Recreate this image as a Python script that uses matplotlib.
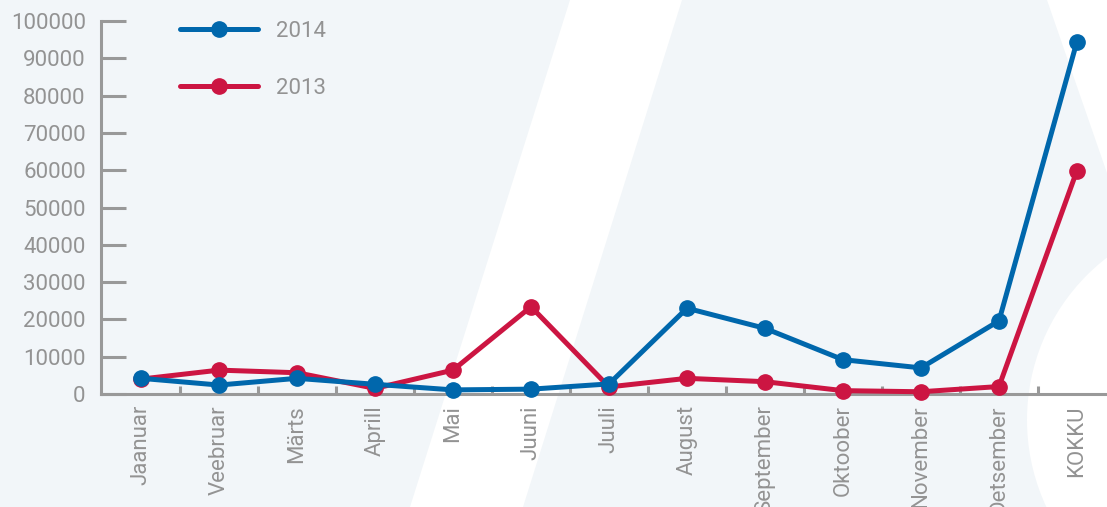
import matplotlib
matplotlib.use("Agg")
import matplotlib.pyplot as plt
from matplotlib.patches import Polygon, Circle, Rectangle

months = ["Jaanuar", "Veebruar", "Märts", "Aprill", "Mai", "Juuni", "Juuli",
          "August", "September", "Oktoober", "November", "Detsember", "KOKKU"]
y2014 = [4200, 2400, 4200, 2600, 1100, 1300, 2700, 23000, 17600, 9200, 7000, 19600, 94500]
y2013 = [4000, 6400, 5700, 1500, 6400, 23400, 1900, 4200, 3300, 900, 600, 2000, 59900]
yticks = [0, 10000, 20000, 30000, 40000, 50000, 60000, 70000, 80000, 90000, 100000]

blue = "#0067ac"
red = "#cc1542"
grey = "#999999"
txt = "#939393"
bg = "#f2f6f9"

plt.rcParams["font.family"] = ["Roboto", "DejaVu Sans"]
plt.rcParams["font.weight"] = "normal"

W, H = 1107, 507
fig = plt.figure(figsize=(W / 100, H / 100), dpi=100)
fig.patch.set_facecolor("white")

# background decoration in pixel coords
bga = fig.add_axes([0, 0, 1, 1], zorder=0)
bga.set_xlim(0, W)
bga.set_ylim(H, 0)
bga.axis("off")
bga.add_patch(Rectangle((0, 0), W, H, color=bg, lw=0))
bga.add_patch(Polygon([(570, 0), (682, 0), (523, H), (410, H)], color="white", lw=0))
bga.add_patch(Polygon([(1047, 0), (W, 0), (W, 173)], color="white", lw=0))
bga.add_patch(Circle((1232, 420), 205, color="white", lw=0))

left, right = 101 / W, 1.0
bottom, top = 1 - 394 / H, 1 - 21 / H
ax = fig.add_axes([left, bottom, right - left, top - bottom], zorder=1)
ax.patch.set_alpha(0)

x = list(range(len(months)))
l1, = ax.plot(x, y2014, color=blue, lw=3.6, marker="o", ms=11, label="2014",
              solid_capstyle="round", zorder=4, clip_on=False)
l2, = ax.plot(x, y2013, color=red, lw=3.6, marker="o", ms=11, label="2013",
              solid_capstyle="round", zorder=3, clip_on=False)

ax.set_xlim(-0.513, 12.385)
ax.set_ylim(0, 100000)
for s in ["top", "right"]:
    ax.spines[s].set_visible(False)
for s in ["left", "bottom"]:
    ax.spines[s].set_color(grey)
    ax.spines[s].set_linewidth(2.2)

fs = 16
ax.set_yticks(yticks)
ax.set_yticklabels([str(v) for v in yticks])
ax.tick_params(axis="y", direction="in", length=18, width=2.2, color=grey,
               labelcolor=txt, labelsize=fs, pad=11)

ax.set_xticks(x)
ax.set_xticklabels(months, rotation=90)
ax.tick_params(axis="x", length=0, labelcolor=txt, labelsize=fs, pad=8)
ax.set_xticks([i + 0.5 for i in range(12)], minor=True)
ax.tick_params(axis="x", which="minor", direction="in", length=6, width=2.2, color=grey)

leg = ax.legend(handles=[l1, l2], loc="upper left", bbox_to_anchor=(160 / W, 1 - 1 / H),
                bbox_transform=fig.transFigure, frameon=False, fontsize=fs,
                labelcolor=txt, handlelength=3.5, handletextpad=0.8, labelspacing=1.6,
                numpoints=1)

fig.savefig("out.png", dpi=100)
